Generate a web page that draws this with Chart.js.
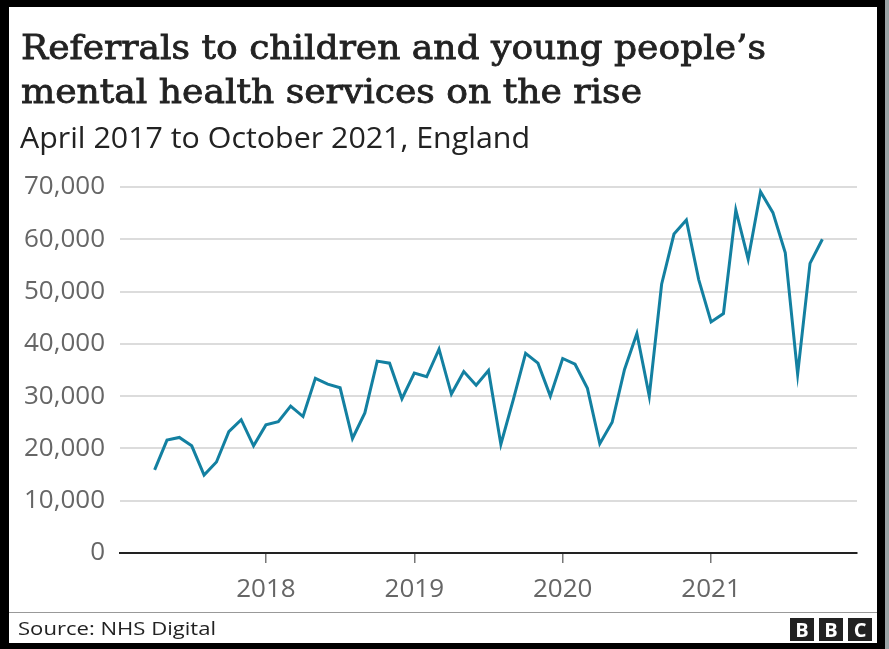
<!DOCTYPE html>
<html>
<head>
<meta charset="utf-8">
<script src="https://cdn.jsdelivr.net/npm/chart.js@4"></script>
<style>
  html, body { margin: 0; padding: 0; background: #000; }
  canvas { display: block; }
</style>
</head>
<body>
<canvas id="chart" width="889" height="649"></canvas>
<script>
// monthly referrals, April 2017 - October 2021
const months = [
  '2017-04','2017-05','2017-06','2017-07','2017-08','2017-09','2017-10','2017-11','2017-12',
  '2018-01','2018-02','2018-03','2018-04','2018-05','2018-06','2018-07','2018-08','2018-09','2018-10','2018-11','2018-12',
  '2019-01','2019-02','2019-03','2019-04','2019-05','2019-06','2019-07','2019-08','2019-09','2019-10','2019-11','2019-12',
  '2020-01','2020-02','2020-03','2020-04','2020-05','2020-06','2020-07','2020-08','2020-09','2020-10','2020-11','2020-12',
  '2021-01','2021-02','2021-03','2021-04','2021-05','2021-06','2021-07','2021-08','2021-09','2021-10'
];
const referrals = [
  15900, 21600, 22100, 20500, 14900, 17400, 23200, 25500, 20500,
  24500, 25100, 28100, 26100, 33400, 32300, 31600, 21900, 26800, 36700, 36300, 29500,
  34400, 33700, 39000, 30400, 34700, 32100, 34900, 20800, 29300, 38200, 36300, 30000,
  37200, 36100, 31500, 20900, 25000, 35100, 42000, 30000, 51400, 61000, 63700, 52300,
  44200, 45800, 65600, 56200, 69100, 65100, 57400, 34200, 55400, 60000
];
const yearTicks = ['2018', '2019', '2020', '2021'];
const yTicks = [0, 10000, 20000, 30000, 40000, 50000, 60000, 70000];

const title = ['Referrals to children and young people\u2019s', 'mental health services on the rise'];
const subtitle = 'April 2017 to October 2021, England';
const source = 'Source: NHS Digital';

// months counted from Jan 2017
function monthIndex(s) {
  const [y, m] = s.split('-').map(Number);
  return (y - 2017) * 12 + (m - 1);
}
const points = months.map((m, i) => ({ x: monthIndex(m), y: referrals[i] }));

const SANS = '"Open Sans", "Noto Sans", sans-serif';
const SERIF = '"DejaVu Serif", "Liberation Serif", serif';

// fit a string to the width it has in the original graphic
function fitText(ctx, text, x, y, font, width, heavy) {
  ctx.font = font;
  const w = ctx.measureText(text).width;
  ctx.save();
  ctx.translate(x, y);
  ctx.scale(width / w, 1);
  ctx.fillText(text, 0, 0);
  if (heavy) {
    // BBC Reith Serif is a bit heavier than DejaVu Serif
    ctx.strokeStyle = ctx.fillStyle;
    ctx.lineWidth = heavy;
    ctx.strokeText(text, 0, 0);
  }
  ctx.restore();
}

const framePlugin = {
  id: 'frame',
  beforeDraw(chart) {
    const ctx = chart.ctx;
    ctx.save();
    ctx.fillStyle = '#000';
    ctx.fillRect(0, 0, chart.width, chart.height);
    ctx.fillStyle = '#9aa3a6';
    ctx.fillRect(885, 0, 4, chart.height);
    ctx.fillStyle = '#fff';
    ctx.fillRect(9, 7, 868, 636);

    ctx.fillStyle = '#222';
    ctx.textBaseline = 'alphabetic';
    ctx.textAlign = 'left';
    fitText(ctx, title[0], 21, 59, '33px ' + SERIF, 745, 0.8);
    fitText(ctx, title[1], 21, 103, '33px ' + SERIF, 621, 0.8);
    fitText(ctx, subtitle, 20, 148, '30px ' + SANS, 510);

    // footer
    ctx.strokeStyle = '#999';
    ctx.lineWidth = 1;
    ctx.beginPath();
    ctx.moveTo(9, 612.5);
    ctx.lineTo(877, 612.5);
    ctx.stroke();
    ctx.fillStyle = '#222';
    fitText(ctx, source, 18, 635, '19px ' + SANS, 198);

    // BBC blocks
    ['B', 'B', 'C'].forEach((ch, i) => {
      const bx = 790 + i * 29;
      ctx.fillStyle = '#222';
      ctx.fillRect(bx, 618, 24, 23);
      ctx.fillStyle = '#fff';
      ctx.font = 'bold 20px ' + SANS;
      ctx.textAlign = 'center';
      ctx.fillText(ch, bx + 12, 637);
    });
    ctx.restore();
  }
};

new Chart(document.getElementById('chart'), {
  type: 'line',
  data: {
    datasets: [{
      label: 'Referrals',
      data: points,
      borderColor: '#1380a1',
      borderWidth: 3,
      pointRadius: 0,
      tension: 0,
      fill: false
    }]
  },
  options: {
    responsive: false,
    animation: false,
    devicePixelRatio: 1,
    layout: { padding: { left: 0, right: 32, top: 187, bottom: 39 } },
    plugins: {
      legend: { display: false },
      tooltip: { enabled: false }
    },
    scales: {
      x: {
        type: 'linear',
        min: 0.2,
        max: 59.8,
        afterBuildTicks: (scale) => {
          scale.ticks = yearTicks.map(y => ({ value: (Number(y) - 2017) * 12 }));
        },
        afterFit: (scale) => { scale.height = 57; },
        ticks: {
          callback: (v) => yearTicks[Math.round(v / 12) - 1],
          color: '#666',
          font: { family: SANS, size: 26 },
          padding: 11,
          maxRotation: 0,
          autoSkip: false
        },
        grid: {
          drawOnChartArea: false,
          drawTicks: true,
          tickLength: 10,
          color: '#777',
          lineWidth: 1.5
        },
        border: { display: true, color: '#222', width: 2 }
      },
      y: {
        min: 0,
        max: 70000,
        afterBuildTicks: (scale) => {
          scale.ticks = yTicks.map(v => ({ value: v }));
        },
        afterFit: (scale) => { scale.width = 120; },
        ticks: {
          callback: (v) => v.toLocaleString('en-GB'),
          color: '#666',
          font: { family: SANS, size: 26 },
          padding: 15
        },
        grid: {
          color: (c) => c.tick && c.tick.value === 0 ? 'rgba(0,0,0,0)' : '#dcdcdc',
          lineWidth: 2,
          drawTicks: false
        },
        border: { display: false }
      }
    }
  },
  plugins: [framePlugin]
});
</script>
</body>
</html>
